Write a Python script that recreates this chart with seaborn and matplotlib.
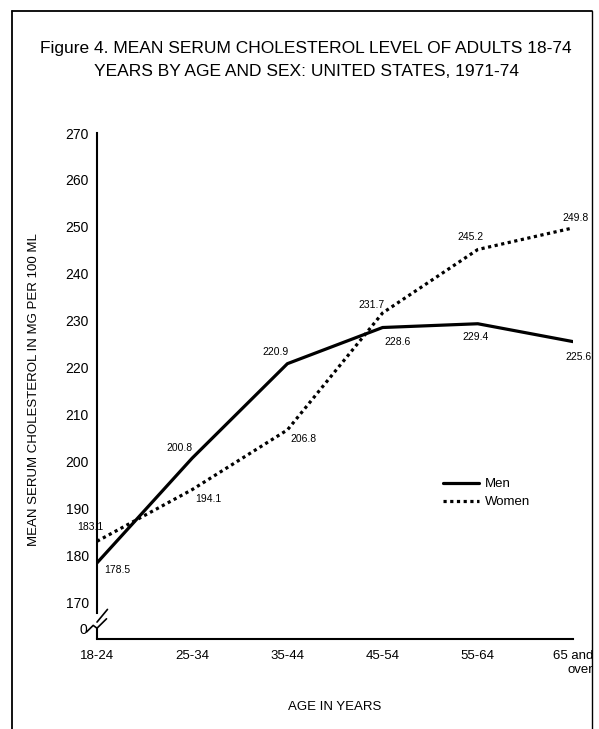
import pandas as pd
import matplotlib.pyplot as plt
import matplotlib.transforms as mtransforms
from matplotlib.lines import Line2D
import seaborn as sns

ages = ["18-24", "25-34", "35-44", "45-54", "55-64", "65 and\nover"]
men = [178.5, 200.8, 220.9, 228.6, 229.4, 225.6]
women = [183.1, 194.1, 206.8, 231.7, 245.2, 249.8]
men_labels = ["178.5", "200.8", "220.9", "228.6", "229.4", "225.6"]
women_labels = ["183.1", "194.1", "206.8", "231.7", "245.2", "249.8"]
yticks = [170, 180, 190, 200, 210, 220, 230, 240, 250, 260, 270]

# label offsets in pixels (dx, dy up)
men_off = [(20, -7), (-13, 10), (-12, 12), (15, -14), (-2, -13), (5, -15)]
women_off = [(-7, 14), (16, -9), (16, -9), (-11, 8), (-7, 13), (3, 10)]

sns.set_theme(style="white")
plt.rcParams["font.family"] = ["Liberation Sans", "DejaVu Sans"]
plt.rcParams["text.color"] = "black"
plt.rcParams["axes.labelcolor"] = "black"
plt.rcParams["xtick.color"] = "black"
plt.rcParams["ytick.color"] = "black"

df = pd.DataFrame({
    "pos": list(range(len(ages))) * 2,
    "value": men + women,
    "sex": ["Men"] * len(men) + ["Women"] * len(women),
})

fig = plt.figure(figsize=(5.99, 7.29), dpi=100)
ax = fig.add_axes([97 / 599, 1 - 639 / 729, 476 / 599, 506 / 729])

sns.lineplot(
    data=df, x="pos", y="value", hue="sex", style="sex",
    palette={"Men": "black", "Women": "black"},
    dashes={"Men": "", "Women": (1, 1.1)},
    linewidth=2.3, legend=False, ax=ax,
)

ax.set_xlim(0, 5)
ax.set_ylim(162.3, 270)
ax.set_xticks(range(len(ages)))
ax.set_xticklabels(ages, fontsize=9.5, multialignment="right")
ax.set_yticks(yticks)
ax.set_yticklabels([str(t) for t in yticks], fontsize=10)
ax.tick_params(axis="y", direction="in", length=13, width=1.2, pad=6)
ax.tick_params(axis="x", direction="in", length=11, width=1.2, pad=8)
ax.set_xlabel("")
ax.set_ylabel("")

for s in ["top", "right"]:
    ax.spines[s].set_visible(False)
for s in ["left", "bottom"]:
    ax.spines[s].set_color("black")
    ax.spines[s].set_linewidth(1.5)
ax.spines["left"].set_bounds(167.8, 270)

# axis break on the y axis
tr = mtransforms.blended_transform_factory(ax.transAxes, ax.transData)
ax.plot([0, 0], [162.3, 164.6], color="black", lw=1.5, transform=tr, clip_on=False)
ax.plot([0.0, 0.022], [165.9, 168.6], color="black", lw=1.2, transform=tr, clip_on=False)
ax.plot([-0.022, -0.008, 0.0, 0.02], [163.8, 165.2, 164.6, 166.6], color="black", lw=1.2,
        transform=tr, clip_on=False)
ax.text(-0.02, 164.2, "0", transform=tr, ha="right", va="center", fontsize=10)

for i, (v, lab) in enumerate(zip(men, men_labels)):
    ax.annotate(lab, (i, v), xytext=men_off[i], textcoords="offset pixels",
                ha="center", va="center", fontsize=7.5, annotation_clip=False)
for i, (v, lab) in enumerate(zip(women, women_labels)):
    ax.annotate(lab, (i, v), xytext=women_off[i], textcoords="offset pixels",
                ha="center", va="center", fontsize=7.5, annotation_clip=False)

ax.set_xlabel("AGE IN YEARS", fontsize=9.5)
ax.xaxis.set_label_coords(0.5, -(701 - 639) / 506)
ax.set_ylabel("MEAN SERUM CHOLESTEROL IN MG PER 100 ML", fontsize=9.5)
ax.yaxis.set_label_coords((40 - 97) / 476, (639 - 390) / 506)

handles = [
    Line2D([], [], color="black", lw=2.3),
    Line2D([], [], color="black", lw=2.3, dashes=(1, 1.1)),
]
ax.legend(handles, ["Men", "Women"], loc="upper left", frameon=False,
          bbox_to_anchor=((443 - 97) / 476, (639 - 478) / 506), borderpad=0,
          borderaxespad=0, handlelength=2.7, handletextpad=0.5, labelspacing=0.45,
          fontsize=9.5)

fig.text(306 / 599, 1 - 48 / 729, "Figure 4. MEAN SERUM CHOLESTEROL LEVEL OF ADULTS 18-74",
         ha="center", va="center", fontsize=12.5)
fig.text(306 / 599, 1 - 71 / 729, "YEARS BY AGE AND SEX: UNITED STATES, 1971-74",
         ha="center", va="center", fontsize=12.5)

# page frame
fig.add_artist(Line2D([12 / 599, 12 / 599], [0, 1 - 11 / 729], color="black", lw=1.3))
fig.add_artist(Line2D([12 / 599, 592 / 599], [1 - 11 / 729, 1 - 11 / 729], color="black", lw=1.3))
fig.add_artist(Line2D([592 / 599, 592 / 599], [0, 1 - 11 / 729], color="black", lw=1.0))

fig.savefig("out.png", dpi=100)
